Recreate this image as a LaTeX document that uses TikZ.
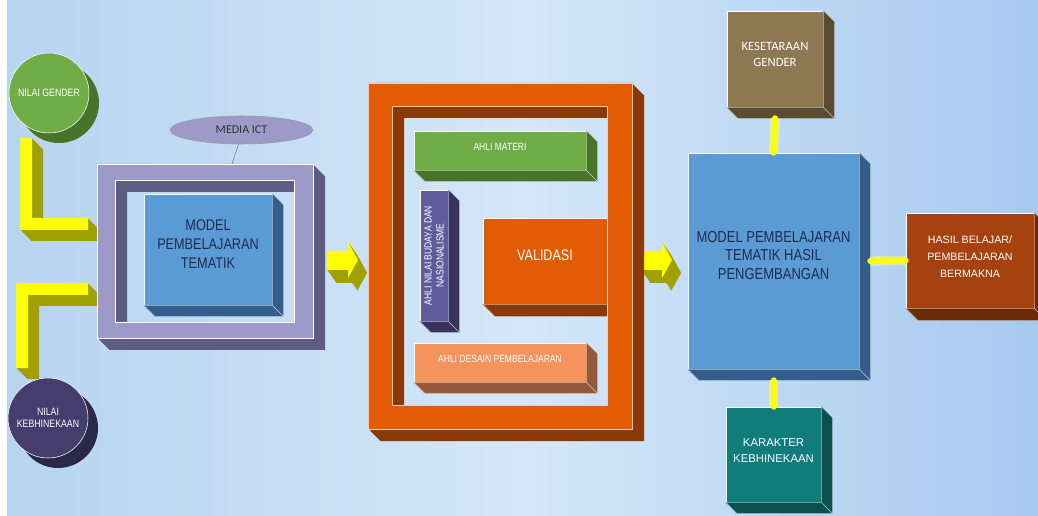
\documentclass[tikz,border=0pt]{standalone}
\usepackage{fontspec}
\setmainfont{Liberation Sans}
\newfontfamily\narrowsf{Liberation Sans}[FakeStretch=0.82]
\newfontfamily\carlito{Carlito}
\usetikzlibrary{fit,shapes.geometric}

\definecolor{bgleft}{HTML}{B7D4F1}
\definecolor{bgmid}{HTML}{D4E7F8}
\definecolor{bgright}{HTML}{A7CAEF}
\definecolor{lav}{HTML}{9D99C8}
\definecolor{lavdk}{HTML}{5E5C82}
\definecolor{sky}{HTML}{5B9BD5}
\definecolor{skydk}{HTML}{335E8C}
\definecolor{leaf}{HTML}{70AD47}
\definecolor{leafdk}{HTML}{47732A}
\definecolor{plum}{HTML}{443D6E}
\definecolor{plumdk}{HTML}{2C2948}
\definecolor{yel}{HTML}{FFFF00}
\definecolor{yeldk}{HTML}{A0A000}
\definecolor{rust}{HTML}{E35B05}
\definecolor{rustdk}{HTML}{8A3A08}
\definecolor{violet}{HTML}{605B9C}
\definecolor{violetdk}{HTML}{36335C}
\definecolor{peach}{HTML}{F4945C}
\definecolor{peachdk}{HTML}{96573A}
\definecolor{khaki}{HTML}{8D7851}
\definecolor{khakidk}{HTML}{5A4C31}
\definecolor{sea}{HTML}{107C7C}
\definecolor{seadk}{HTML}{0B5050}
\definecolor{brick}{HTML}{A6420F}
\definecolor{brickdk}{HTML}{6C2A07}
\definecolor{ink}{HTML}{1E2C4C}

\tikzset{
  face/.style={draw=white, line width=0.4pt, inner sep=0pt, align=center},
  blk/.style={face, rectangle, fill=#1},
  disc/.style={face, circle, fill=#1, minimum size=60pt, text=white, font=\narrowsf\fontsize{8}{9}\selectfont},
  small/.style={text=white, font=\narrowsf\fontsize{7.8}{9}\selectfont},
  link/.style={draw=yel, line width=4.5pt, line cap=round, preaction={draw=yel!50, line width=7pt, opacity=0.5}},
}

% side faces of a block, drawn after the node
\newcommand{\extrude}[3]{%
  \fill[#2, draw=white!60!#2, line width=0.3pt] (#1.north east) -- ++(#3,#3) -- ([shift={(#3,#3)}]#1.south east)
    -- ([shift={(#3,#3)}]#1.south west) -- (#1.south west) -- (#1.south east) -- cycle;
  \draw[white!70!#2, line width=0.3pt] (#1.south east) -- ++(#3,#3);}

\begin{document}
\begin{tikzpicture}[x=0.75pt,y=-0.75pt]
\useasboundingbox (0,0) rectangle (1038,516);
\shade[left color=bgleft, right color=bgright, middle color=bgmid] (7,0) rectangle (1038,516);

\fill[leafdk] (59,103) circle (40);
\node[disc=leaf] (gender) at (49,93) {NILAI GENDER};
\fill[plumdk] (58,428) circle (40);
\node[disc=plum] (kebhin) at (48,418) {NILAI\\KEBHINEKAAN};

\foreach \d in {11,...,1}
  \fill[yeldk, shift={(\d,\d)}] (20,138) -- (32,138) -- (32,218) -- (88,218) -- (88,230) -- (20,230) -- cycle
    (16,283) -- (88,283) -- (88,295) -- (28,295) -- (28,368) -- (16,368) -- cycle;
\fill[yel] (20,138) -- (32,138) -- (32,218) -- (88,218) -- (88,230) -- (20,230) -- cycle
  (16,283) -- (88,283) -- (88,295) -- (28,295) -- (28,368) -- (16,368) -- cycle;

\foreach \d in {12,...,1}
  \fill[lavdk, even odd rule, shift={(\d,\d)}] (97,164) rectangle (313,338) (115,180) rectangle (294,322);
\fill[lav, even odd rule, draw=white, line width=0.4pt] (97,164) rectangle (313,338) (115,180) rectangle (294,322);

\node[blk=sky, fit={(144,194) (272,305)}, text=ink, font=\narrowsf\fontsize{11.6}{14}\selectfont] (tematik) {MODEL\\PEMBELAJARAN\\TEMATIK};
\extrude{tematik}{skydk}{11}

\node[ellipse, fill=lav, draw=gray!80, minimum width=107pt, minimum height=21pt, inner sep=0pt,
  font=\carlito\fontsize{9}{10}\selectfont, text=black!80] (media) at (241.5,130) {MEDIA ICT};
\coordinate (ringtop) at (232,164);
\draw[gray!70!lavdk] (media.258) -- (ringtop);

\foreach \ox in {0,314} {
  \foreach \d in {13,...,1}
    \fill[yeldk, shift={({\ox+0.7*\d},\d)}] (327,251) -- (348,251) -- (348,242) -- (358,260) -- (348,278) -- (348,270) -- (327,270) -- cycle;
  \fill[yel, shift={(\ox,0)}] (327,251) -- (348,251) -- (348,242) -- (358,260) -- (348,278) -- (348,270) -- (327,270) -- cycle;
}

\node[blk=leaf, fit={(414,131) (586,170)}, small] (materi) {AHLI MATERI};
\extrude{materi}{leafdk}{11}
\node[blk=violet, fit={(420,190) (448,321)}] (budaya) {};
\extrude{budaya}{violetdk}{11}
\node[small, rotate=90, align=center] (budayatxt) at (budaya) {AHLI NILAI BUDAYA DAN\\NASIONALISME};
\node[blk=rust, fit={(483,218) (607,304)}, text=white, font=\narrowsf\fontsize{11.5}{13}\selectfont] (validasi) {VALIDASI};
\extrude{validasi}{rustdk}{12}
\node[blk=peach, fit={(414,343) (586,382)}, small] (desain) {AHLI DESAIN PEMBELAJARAN};
\extrude{desain}{peachdk}{11}

\foreach \d in {12,...,1}
  \fill[rustdk, even odd rule, shift={(\d,\d)}] (368,83) rectangle (632,429) (392,106) rectangle (607,405);
\fill[rust, even odd rule, draw=white!70!rust, line width=0.4pt] (368,83) rectangle (632,429) (392,106) rectangle (607,405);

\node[blk=sky, fit={(688,153) (859,369)}, text=ink, font=\narrowsf\fontsize{11.9}{14}\selectfont] (model) {MODEL PEMBELAJARAN\\TEMATIK HASIL\\PENGEMBANGAN};
\extrude{model}{skydk}{11}
\node[blk=khaki, fit={(727,11) (823,107)}, text=white, font=\carlito\fontsize{9.5}{12}\selectfont] (kesetaraan) {KESETARAAN\\GENDER};
\extrude{kesetaraan}{khakidk}{11}
\node[blk=sea, fit={(726,407) (821,502)}, text=white, font=\fontsize{8.5}{12.5}\selectfont] (karakter) {KARAKTER\\KEBHINEKAAN};
\extrude{karakter}{seadk}{11}
\node[blk=brick, fit={(906,213) (1034,308)}, text=white, font=\fontsize{8}{13}\selectfont] (hasil) {HASIL BELAJAR/\\PEMBELAJARAN\\BERMAKNA};
\extrude{hasil}{brickdk}{12}

\draw[link] ([shift={(0,11)}]kesetaraan.south) -- (model.north);
\draw[link] ([shift={(0,11)}]model.south) -- (karakter.north);
\draw[link] ([shift={(11,0)}]model.east) -- (hasil.west);
\end{tikzpicture}
\end{document}
